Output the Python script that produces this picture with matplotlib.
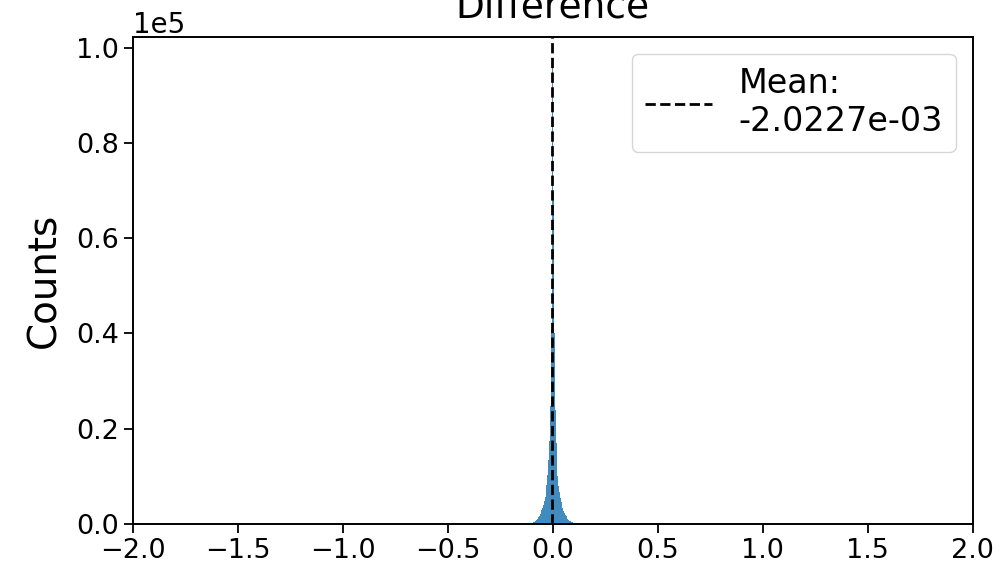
import numpy as np
import matplotlib
matplotlib.use('Agg')
import matplotlib.pyplot as plt

# histogram of the difference, bins 0.004 wide around zero
bin_edges = np.linspace(-0.114, 0.114, 58)
center_count = 97000
right_counts = [70000, 40000, 24000, 17000, 13000, 10000, 8000, 6600, 5500, 4600,
                3800, 3300, 2800, 2350, 1950, 1600, 1320, 1080, 860, 680,
                540, 410, 310, 230, 165, 115, 75, 45]
left_counts = [72000, 41000, 24800, 17500, 13400, 10300, 8250, 6800, 5650, 4750,
               3900, 3400, 2880, 2420, 2000, 1650, 1360, 1110, 890, 700,
               560, 425, 320, 240, 170, 120, 78, 48]
counts = left_counts[::-1] + [center_count] + right_counts
mean_value = -2.0227e-03

centers = (bin_edges[:-1] + bin_edges[1:]) / 2

fig = plt.figure(figsize=(10.06, 5.70), dpi=100)
ax = fig.add_axes([0.132, 0.081, 0.835, 0.854])

ax.hist(centers, bins=bin_edges, weights=counts, color='#1f77b4', alpha=0.85)
ax.axvline(mean_value, color='black', linestyle='--', linewidth=2,
           label='Mean:\n%.4e' % mean_value)

ax.set_xlim(-2, 2)
ax.set_ylim(0, 1.0227e5)
ax.ticklabel_format(axis='y', style='sci', scilimits=(0, 0))
ax.yaxis.get_offset_text().set_fontsize(20)
ax.tick_params(labelsize=19.5, width=1.3, length=6.5)
for s in ax.spines.values():
    s.set_linewidth(1.4)

ax.set_ylabel('Counts', fontsize=28, labelpad=9)
ax.set_title('Difference', fontsize=27, pad=14)
ax.legend(fontsize=24, loc='upper right', handlelength=2.0)

fig.savefig('out.png', dpi=100)
